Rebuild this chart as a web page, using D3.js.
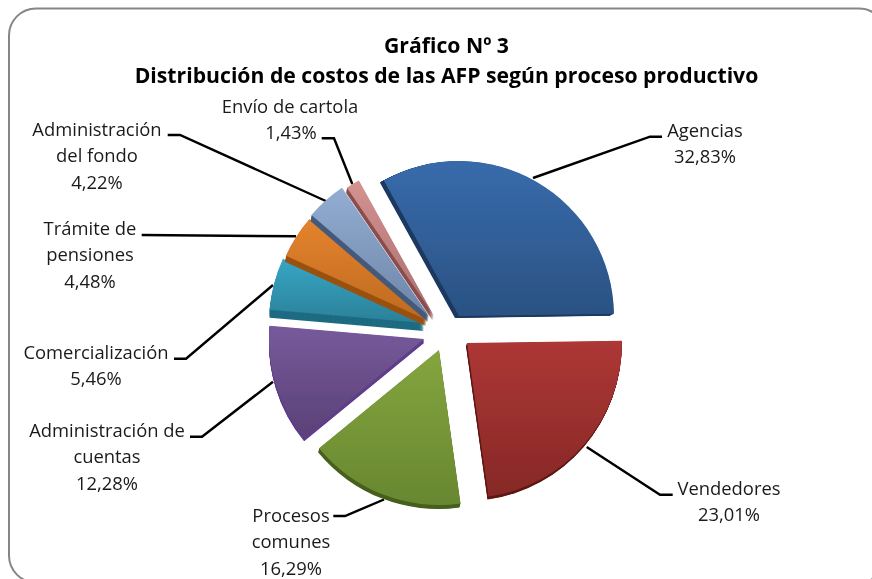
<!DOCTYPE html>
<html>
<head>
<meta charset="utf-8">
<script src="https://cdn.jsdelivr.net/npm/d3@7/dist/d3.min.js"></script>
<style>
html,body{margin:0;padding:0;background:#fff;overflow:hidden}
svg{display:block}
text{font-family:"Open Sans",Lato,sans-serif;fill:#1a1a1a}
</style>
</head>
<body>
<svg id="c" width="872" height="579"></svg>
<script>
const categories = ["Agencias","Vendedores","Procesos comunes","Administración de cuentas","Comercialización","Trámite de pensiones","Administración del fondo","Envío de cartola"];
const values = [32.83,23.01,16.29,12.28,5.46,4.48,4.22,1.43];
const labelLines = [["Agencias"],["Vendedores"],["Procesos","comunes"],["Administración de","cuentas"],["Comercialización"],["Trámite de","pensiones"],["Administración","del fondo"],["Envío de cartola"]];
const titleLines = ["Gráfico Nº 3","Distribución de costos de las AFP según proceso productivo"];

// layout (not data)
const apex = [[459,316],[467,343],[439,350],[424,339],[424,323],[427,320],[429,316],[434,316]];
const wallShift = [[-4,2],[-1,3],[-1,4],[0,4],[0,8],[-1,6],[-1,6],[-1,5]];
const topColor = ["#386bab","#ad3735","#84a53f","#775a9c","#37a6c5","#e5832e","#94aed3","#d59291"];
const botColor = ["#2a5283","#862826","#688730","#5a4176","#2b8098","#bd6a20","#6c85a8","#a86f6e"];
const wallColor = ["#1d3a60","#5e1614","#46601e","#5f3f8c","#1f6c82","#9a5212","#445a7a","#8a4e4d"];
const labelCx = [705,729,291,107,96,90,97,290];
const labelBase = [137,495,522,437,359,235,136,113];
const valueAnchor = [null,null,null,null,null,null,null,291];
const leaders = [
 [[662,136.7],[650,136.7],[533,178]],
 [[586.7,447],[660,494.7],[672.7,494.7]],
 [[333.3,516],[345,516],[384,499.5]],
 [[190,436.7],[202,436.7],[273,381.7]],
 [[174,358.7],[186,358.7],[273,285]],
 [[141.7,235],[296,236.3]],
 [[167.7,135],[180,135],[328,202]],
 [[321.7,138.3],[334,138.3],[352.3,184]]
];
const drawOrder = [4,5,6,7,0,3,2,1];
const R = 155;

const svg = d3.select("#c");
const defs = svg.append("defs");
defs.append("filter").attr("id","soft").append("feGaussianBlur").attr("stdDeviation",0.45);
values.forEach((v,i)=>{
  const g = defs.append("linearGradient").attr("id","g"+i).attr("x1",0).attr("y1",0).attr("x2",0).attr("y2",1);
  g.append("stop").attr("offset","0%").attr("stop-color",topColor[i]);
  g.append("stop").attr("offset","100%").attr("stop-color",botColor[i]);
});

svg.append("rect").attr("x",9).attr("y",8.5).attr("width",877).attr("height",574)
  .attr("rx",27).attr("ry",27).attr("fill","#fff").attr("stroke","#868686").attr("stroke-width",2);

const line = d3.line();
svg.append("g").selectAll("path").data(leaders).join("path")
  .attr("d",d=>line(d)).attr("fill","none").attr("stroke","#000").attr("stroke-width",2.4);

const start = -29*Math.PI/180;
const arcs = d3.pie().value(d=>d).sort(null).startAngle(start).endAngle(start+2*Math.PI)(values);
const arc = d3.arc().innerRadius(0).outerRadius(R);

const pie = svg.append("g").attr("filter","url(#soft)");
drawOrder.forEach(i=>{
  const g = pie.append("g").attr("transform",`translate(${apex[i][0]},${apex[i][1]})`);
  const steps = 8;
  d3.range(steps,0,-1).forEach(k=>{
    g.append("path").attr("d",arc(arcs[i]))
      .attr("transform",`translate(${wallShift[i][0]*k/steps},${wallShift[i][1]*k/steps})`)
      .attr("fill",wallColor[i]);
  });
  g.append("path").attr("d",arc(arcs[i])).attr("fill",`url(#g${i})`);
});

const fmt = v=>v.toFixed(2).replace(".",",")+"%";
const LH = 26.3;
categories.forEach((c,i)=>{
  const lines = labelLines[i].concat([fmt(values[i])]);
  lines.forEach((t,j)=>{
    const isVal = j===lines.length-1;
    svg.append("text").attr("text-anchor","middle")
      .attr("x",isVal && valueAnchor[i]?valueAnchor[i]:labelCx[i])
      .attr("y",labelBase[i]+j*LH)
      .attr("font-size",18.4).text(t);
  });
});

const titleBase = [52.7,83];
titleLines.forEach((t,j)=>{
  svg.append("text").attr("text-anchor","middle").attr("x",446.5).attr("y",titleBase[j])
    .attr("font-size",21.2).attr("font-weight",700).style("fill","#000").text(t);
});
</script>
</body>
</html>
